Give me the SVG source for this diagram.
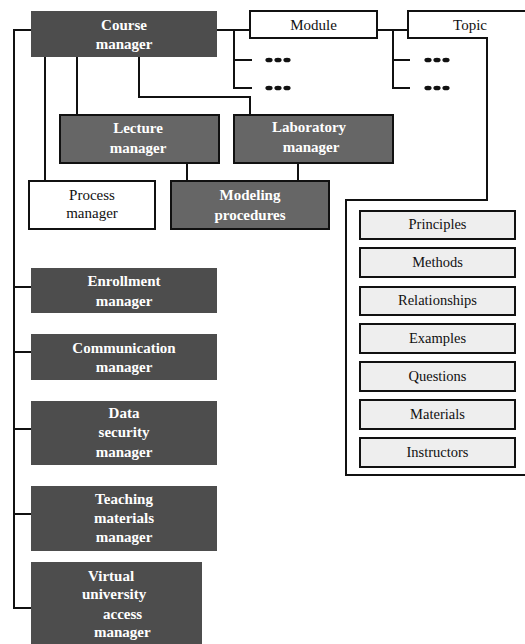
<svg xmlns="http://www.w3.org/2000/svg" width="525" height="644" viewBox="0 0 525 644">
<style>
.dk{fill:#4d4d4d;stroke:none}
.md{fill:#666666;stroke:#111;stroke-width:2}
.wh{fill:#fff;stroke:#111;stroke-width:2}
.lt{fill:#eeeeee;stroke:#111;stroke-width:2}
.ln{fill:none;stroke:#111;stroke-width:2}
text{font-family:'Liberation Serif','Times New Roman','DejaVu Serif',serif}
.bt{font-weight:bold;font-size:15px;fill:#fff;text-anchor:middle}
.rt{font-size:15px;fill:#111;text-anchor:middle}
.st{font-size:14.5px;fill:#111;text-anchor:middle}
.vt{font-weight:bold;font-size:15px;fill:#fff}
.dot{fill:#111}
</style>
<g id="connectors">
<path class="ln" d="M31 30 H14 V608 H31"/>
<path class="ln" d="M14 287 H31 M14 352 H31 M14 429 H31 M14 514 H31"/>
<path class="ln" d="M217 30 H250 M234 30 V88 H252 M234 60 H252"/>
<path class="ln" d="M377 30 H408 M393 30 V88 H410 M393 60 H410"/>
<path class="ln" d="M45 57 V181 M77 57 V115 M139 57 V97 H250 V115"/>
<path class="ln" d="M187 163 V181 M298 163 V181"/>
<path class="ln" d="M530 11 H408 V38 H487 V200 H346 V475 H530"/>
<g class="dot">
<ellipse cx="269" cy="60" rx="3.6" ry="2.3"/><ellipse cx="278" cy="60" rx="3.6" ry="2.3"/><ellipse cx="287" cy="60" rx="3.6" ry="2.3"/>
<ellipse cx="269" cy="88" rx="3.6" ry="2.3"/><ellipse cx="278" cy="88" rx="3.6" ry="2.3"/><ellipse cx="287" cy="88" rx="3.6" ry="2.3"/>
<ellipse cx="428" cy="60" rx="3.6" ry="2.3"/><ellipse cx="437" cy="60" rx="3.6" ry="2.3"/><ellipse cx="446" cy="60" rx="3.6" ry="2.3"/>
<ellipse cx="428" cy="88" rx="3.6" ry="2.3"/><ellipse cx="437" cy="88" rx="3.6" ry="2.3"/><ellipse cx="446" cy="88" rx="3.6" ry="2.3"/>
</g>
</g>
<g id="course-manager"><rect class="dk" x="31" y="11" width="186" height="46"/><text class="bt" x="124" y="30">Course</text><text class="bt" x="124" y="49">manager</text></g>
<g id="module"><rect class="wh" x="250" y="11" width="127" height="27"/><text class="rt" x="313.5" y="30">Module</text></g>
<g id="topic"><text class="rt" x="470" y="30">Topic</text></g>
<g id="lecture-manager"><rect class="md" x="60" y="115" width="159" height="48"/><text class="bt" x="138" y="133">Lecture</text><text class="bt" x="138" y="153">manager</text></g>
<g id="laboratory-manager"><rect class="md" x="234" y="115" width="159" height="48"/><text class="bt" x="309" y="132">Laboratory</text><text class="bt" x="311" y="152">manager</text></g>
<g id="process-manager"><rect class="wh" x="29" y="181" width="126" height="48"/><text class="rt" x="92" y="200">Process</text><text class="rt" x="92" y="218">manager</text></g>
<g id="modeling-procedures"><rect class="md" x="171" y="181" width="158" height="48"/><text class="bt" x="250" y="200">Modeling</text><text class="bt" x="250" y="220">procedures</text></g>
<g id="principles"><rect class="lt" x="360" y="211" width="155" height="28"/><text class="st" x="437.5" y="229">Principles</text></g>
<g id="methods"><rect class="lt" x="360" y="248" width="155" height="29"/><text class="st" x="437.5" y="267">Methods</text></g>
<g id="relationships"><rect class="lt" x="360" y="287" width="155" height="28"/><text class="st" x="437.5" y="305">Relationships</text></g>
<g id="examples"><rect class="lt" x="360" y="324" width="155" height="29"/><text class="st" x="437.5" y="343">Examples</text></g>
<g id="questions"><rect class="lt" x="360" y="362" width="155" height="29"/><text class="st" x="437.5" y="381">Questions</text></g>
<g id="materials"><rect class="lt" x="360" y="400" width="155" height="29"/><text class="st" x="437.5" y="419">Materials</text></g>
<g id="instructors"><rect class="lt" x="360" y="438" width="155" height="29"/><text class="st" x="437.5" y="457">Instructors</text></g>
<g id="enrollment-manager"><rect class="dk" x="31" y="268" width="186" height="45"/><text class="bt" x="124" y="286">Enrollment</text><text class="bt" x="124" y="306">manager</text></g>
<g id="communication-manager"><rect class="dk" x="31" y="334" width="186" height="46"/><text class="bt" x="124" y="353">Communication</text><text class="bt" x="124" y="372">manager</text></g>
<g id="data-security-manager"><rect class="dk" x="31" y="401" width="186" height="64"/><text class="bt" x="124" y="418">Data</text><text class="bt" x="124" y="437">security</text><text class="bt" x="124" y="457">manager</text></g>
<g id="teaching-materials-manager"><rect class="dk" x="31" y="486" width="186" height="65"/><text class="bt" x="124" y="504">Teaching</text><text class="bt" x="124" y="523">materials</text><text class="bt" x="124" y="542">manager</text></g>
<g id="virtual-university-access-manager"><rect class="dk" x="31" y="562" width="171" height="82"/><text class="vt" x="88" y="581">Virtual</text><text class="vt" x="82" y="599">university</text><text class="vt" x="103" y="619">access</text><text class="vt" x="94" y="637">manager</text></g>
</svg>
